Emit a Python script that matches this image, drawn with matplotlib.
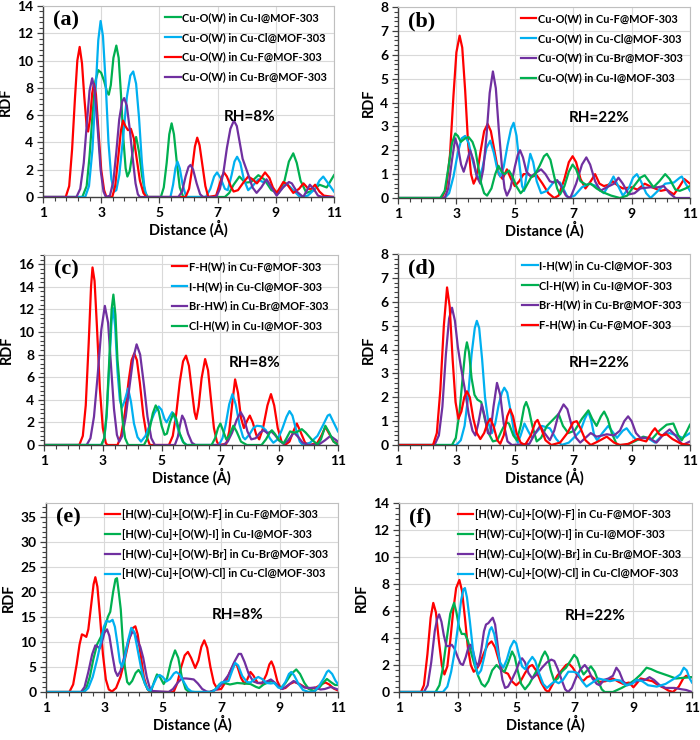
import matplotlib
matplotlib.use("Agg")
import numpy as np
import matplotlib.pyplot as plt
from matplotlib.ticker import MultipleLocator, FixedLocator

plt.rcParams['font.family'] = ['Lato', 'DejaVu Sans']

RED = '#FF0000'; GREEN = '#00B050'; CYAN = '#00B0F0'; PURPLE = '#7030A0'

# ---------------- panel (a) RH=8%  Cu-O(W) ----------------
A_I = [(1,0),(2.35,0),(2.5,0.8),(2.6,3.0),(2.7,6.0),(2.8,8.5),(2.9,9.3),(3.0,9.1),(3.1,8.5),(3.2,7.7),(3.26,7.5),(3.33,8.2),(3.42,10.2),(3.52,11.1),(3.6,10.2),(3.68,7.5),(3.76,4.3),(3.84,2.1),(3.9,1.5),(3.98,1.9),(4.08,3.3),(4.2,4.4),(4.3,3.3),(4.4,1.6),(4.5,0.4),(4.6,0),(5.05,0),(5.15,0.7),(5.25,2.5),(5.34,4.6),(5.42,5.4),(5.5,4.6),(5.6,2.5),(5.7,0.7),(5.82,0),(7.25,0),(7.4,0.3),(7.55,0.9),(7.75,1.5),(7.95,1.05),(8.15,1.1),(8.4,1.6),(8.6,1.3),(8.85,0.5),(9.1,0.3),(9.3,1.2),(9.45,2.6),(9.6,3.2),(9.72,2.5),(9.85,1.2),(10.05,0.3),(10.3,0.5),(10.5,0.9),(10.75,0.7),(11,1.6)]
A_Cl = [(1,0),(2.45,0),(2.58,0.8),(2.7,3.5),(2.8,7.5),(2.9,11.5),(2.98,12.9),(3.06,11.8),(3.15,8.5),(3.25,4.0),(3.35,1.3),(3.45,0.4),(3.52,0.5),(3.62,1.6),(3.75,4.3),(3.88,7.3),(4.0,8.9),(4.1,9.2),(4.2,8.3),(4.3,5.8),(4.4,2.5),(4.48,0.8),(4.56,0),(5.38,0),(5.47,0.9),(5.55,2.1),(5.62,2.6),(5.7,2.1),(5.8,0.9),(5.92,0),(6.6,0),(6.75,0.6),(6.88,1.5),(6.98,1.8),(7.1,1.4),(7.25,0.6),(7.35,0.5),(7.48,1.6),(7.58,2.6),(7.67,2.95),(7.78,2.5),(7.9,1.3),(8.05,0.5),(8.2,0.8),(8.4,1.3),(8.55,1.1),(8.7,1.2),(8.85,0.7),(9.03,0.2),(9.2,0.6),(9.37,1.0),(9.6,0.5),(9.83,0),(10.1,0.1),(10.35,0.6),(10.5,1.2),(10.63,1.5),(10.8,1.0),(11,0.4)]
A_F = [(1,0),(1.78,0),(1.9,0.8),(2.0,3.5),(2.1,7.3),(2.18,10.0),(2.26,11.0),(2.34,9.8),(2.42,7.3),(2.5,5.2),(2.55,4.8),(2.62,5.8),(2.69,7.6),(2.75,8.3),(2.82,7.5),(2.9,5.0),(3.0,2.0),(3.1,0.5),(3.18,0),(3.38,0),(3.48,0.8),(3.58,2.8),(3.68,4.9),(3.75,5.6),(3.83,5.2),(3.92,4.9),(4.02,5.0),(4.12,4.3),(4.22,2.8),(4.33,1.2),(4.45,0.3),(4.55,0),(5.9,0),(6.02,0.6),(6.12,2.0),(6.22,3.7),(6.3,4.35),(6.38,3.8),(6.48,2.3),(6.58,0.8),(6.68,0),(6.95,0.1),(7.05,0.8),(7.15,1.5),(7.22,1.8),(7.32,1.5),(7.45,0.8),(7.55,0.4),(7.7,0.5),(7.9,1.1),(8.05,1.5),(8.2,1.3),(8.35,1.0),(8.5,1.4),(8.63,1.8),(8.78,1.4),(8.9,0.7),(9.03,0.3),(9.15,0.7),(9.26,1.1),(9.4,0.9),(9.6,0.3),(9.8,0.6),(9.95,1.0),(10.12,0.6),(10.22,0.6),(10.35,0.9),(10.5,0.4),(10.65,0.1),(11,0)]
A_Br = [(1,0),(2.15,0),(2.28,0.6),(2.4,2.5),(2.5,5.2),(2.6,7.8),(2.69,8.7),(2.78,7.8),(2.88,5.0),(2.98,2.0),(3.08,0.4),(3.16,0),(3.3,0.1),(3.42,1.2),(3.52,3.3),(3.62,5.7),(3.72,7.0),(3.79,7.25),(3.88,6.7),(3.98,5.0),(4.08,2.9),(4.18,1.0),(4.26,0.2),(4.33,0),(5.65,0),(5.78,0.4),(5.9,1.5),(6.0,2.2),(6.07,2.35),(6.16,2.0),(6.28,1.0),(6.4,0.2),(6.5,0),(6.95,0),(7.08,0.6),(7.2,1.8),(7.32,3.6),(7.44,5.0),(7.56,5.6),(7.66,5.2),(7.76,4.0),(7.86,2.8),(7.96,2.2),(8.06,1.6),(8.2,0.7),(8.34,0.3),(8.5,0.7),(8.68,1.3),(8.85,0.7),(9.03,0.1),(9.25,0.7),(9.45,1.1),(9.55,1.0),(9.72,0.4),(9.94,0),(10.05,0.4),(10.17,0.9),(10.3,0.6),(10.45,0.1),(10.6,0),(11,0)]

# ---------------- panel (b) RH=22%  Cu-O(W) ----------------
B_F = [(1,0),(2.5,0),(2.65,0.4),(2.78,1.8),(2.9,4.3),(3.0,6.1),(3.11,6.8),(3.2,6.3),(3.3,4.5),(3.4,2.3),(3.5,1.0),(3.59,0.6),(3.7,0.9),(3.82,1.9),(3.95,2.8),(4.07,3.1),(4.18,2.8),(4.3,2.0),(4.45,1.0),(4.58,0.8),(4.73,1.2),(4.87,0.8),(5.0,0.5),(5.15,0.7),(5.3,1.0),(5.45,1.0),(5.6,0.9),(5.75,0.95),(5.95,0.6),(6.15,0.2),(6.35,0),(6.5,0.1),(6.7,0.8),(6.85,1.5),(6.98,1.75),(7.1,1.5),(7.25,0.8),(7.42,0.4),(7.6,0.7),(7.75,1.0),(7.9,0.6),(8.05,0.5),(8.2,0.55),(8.35,0.7),(8.55,0.5),(8.7,0.4),(9.0,0.45),(9.2,0.35),(9.45,0.6),(9.7,0.45),(10.0,0.3),(10.2,0.35),(10.45,0.15),(10.65,0.5),(10.8,0.8),(11,0.6)]
B_Cl = [(1,0),(2.6,0),(2.75,0.2),(2.9,0.9),(3.05,1.9),(3.18,2.5),(3.3,2.6),(3.42,2.3),(3.55,1.6),(3.68,1.0),(3.78,0.8),(3.9,1.3),(4.03,2.1),(4.16,2.4),(4.28,1.9),(4.4,1.2),(4.5,0.9),(4.62,1.3),(4.75,2.2),(4.87,2.9),(4.96,3.15),(5.06,2.6),(5.16,1.4),(5.25,0.5),(5.32,0.3),(5.42,1.1),(5.53,1.85),(5.63,1.5),(5.75,0.7),(5.9,0.2),(6.1,0.3),(6.35,0.7),(6.55,0.65),(6.7,0.3),(6.82,0),(7.05,0.1),(7.3,0.45),(7.55,0.6),(7.8,0.5),(8.05,0.2),(8.25,0.6),(8.38,0.9),(8.5,0.6),(8.7,0.1),(8.9,0.4),(9.05,0.85),(9.18,1.0),(9.32,0.7),(9.5,0.2),(9.65,0),(9.9,0.3),(10.15,0.6),(10.45,0.65),(10.65,0.85),(10.72,0.9),(10.85,0.6),(11,0.3)]
B_Br = [(1,0),(2.6,0),(2.72,0.4),(2.85,1.6),(2.96,2.5),(3.06,2.1),(3.16,1.4),(3.25,1.1),(3.35,1.5),(3.47,2.0),(3.58,1.6),(3.7,0.9),(3.82,0.6),(3.92,1.2),(4.03,2.6),(4.14,4.4),(4.25,5.3),(4.35,4.6),(4.45,2.9),(4.56,1.3),(4.65,0.4),(4.73,0.1),(4.85,0.4),(5.0,1.3),(5.1,1.8),(5.18,2.0),(5.28,1.7),(5.4,1.1),(5.55,0.9),(5.72,1.05),(5.9,1.2),(6.05,1.0),(6.2,0.7),(6.33,0.65),(6.45,0.75),(6.58,0.5),(6.75,0.1),(6.9,0),(7.1,0.6),(7.3,1.4),(7.45,1.7),(7.58,1.4),(7.75,0.7),(7.93,0.3),(8.15,0.45),(8.4,0.6),(8.55,0.85),(8.7,0.6),(8.9,0.15),(9.1,0.2),(9.3,0.4),(9.65,0.45),(9.9,0.45),(10.1,0.5),(10.3,0.2),(10.5,0),(11,0)]
B_I = [(1,0),(2.45,0),(2.6,0.3),(2.73,1.3),(2.85,2.3),(2.96,2.7),(3.05,2.6),(3.15,2.35),(3.3,2.5),(3.42,2.55),(3.55,2.35),(3.65,2.0),(3.75,1.3),(3.85,0.6),(3.95,0.2),(4.05,0.1),(4.2,0.4),(4.33,1.0),(4.44,1.35),(4.55,1.1),(4.65,1.0),(4.8,1.15),(4.92,0.9),(5.05,0.5),(5.2,0.2),(5.35,0.4),(5.55,0.85),(5.7,1.0),(5.85,1.35),(6.0,1.75),(6.1,1.85),(6.22,1.6),(6.35,0.9),(6.45,0.4),(6.55,0.15),(6.7,0.5),(6.85,1.1),(6.98,1.4),(7.1,1.2),(7.25,0.7),(7.45,0.55),(7.6,0.6),(7.8,0.4),(8.0,0.25),(8.3,0.1),(8.6,0),(8.85,0.1),(9.05,0.45),(9.3,0.85),(9.45,0.95),(9.6,0.7),(9.75,0.45),(9.95,0.7),(10.15,1.0),(10.3,0.8),(10.5,0.35),(10.65,0.3),(10.85,0.4),(11,0.5)]

# ---------------- panel (c) RH=8%  X-H(W) ----------------
C_F = [(1,0),(2.2,0),(2.32,0.8),(2.42,3.5),(2.52,9.0),(2.6,14.0),(2.65,15.7),(2.72,14.5),(2.8,10.5),(2.9,5.0),(3.0,1.5),(3.1,0.2),(3.15,0),(3.5,0),(3.62,0.8),(3.75,2.8),(3.88,5.7),(3.98,7.5),(4.07,8.1),(4.16,7.5),(4.26,5.5),(4.38,2.6),(4.5,0.7),(4.6,0),(5.25,0),(5.38,0.8),(5.5,2.8),(5.62,5.6),(5.73,7.4),(5.83,7.9),(5.93,7.0),(6.03,4.8),(6.12,2.9),(6.18,2.3),(6.26,3.4),(6.36,5.9),(6.48,7.6),(6.58,6.6),(6.68,4.0),(6.78,1.5),(6.88,0.3),(6.95,0),(7.2,0.1),(7.3,1.2),(7.4,3.6),(7.5,5.8),(7.6,4.6),(7.7,2.4),(7.8,1.5),(7.92,2.2),(8.0,2.6),(8.1,2.0),(8.22,0.9),(8.32,0.5),(8.45,1.5),(8.6,3.5),(8.72,4.5),(8.83,3.5),(8.95,1.5),(9.08,0.3),(9.2,0),(9.35,0.3),(9.48,1.2),(9.6,1.9),(9.72,1.2),(9.88,0.2),(10.05,0),(10.3,0.2),(10.45,0.9),(10.57,1.6),(10.7,1.0),(10.85,0.3),(11,0.1)]
C_Cl = [(1,0),(2.95,0),(3.05,0.6),(3.13,2.5),(3.22,7.0),(3.3,11.0),(3.35,12.1),(3.42,10.5),(3.5,6.5),(3.58,4.0),(3.65,3.3),(3.74,3.9),(3.86,5.0),(3.96,3.8),(4.06,1.9),(4.18,0.7),(4.3,0.3),(4.45,0.8),(4.6,1.8),(4.75,2.8),(4.9,3.4),(5.0,3.1),(5.1,2.3),(5.17,2.0),(5.27,2.5),(5.36,2.9),(5.45,2.4),(5.58,1.2),(5.72,0.3),(5.85,0),(6.95,0),(7.07,0.6),(7.18,1.8),(7.3,3.6),(7.41,4.5),(7.52,3.6),(7.65,1.8),(7.77,0.7),(7.84,0.5),(7.98,0.9),(8.12,1.5),(8.24,1.7),(8.4,1.65),(8.55,1.3),(8.68,0.6),(8.8,0.2),(8.95,0.5),(9.1,1.4),(9.25,2.5),(9.35,3.0),(9.45,2.6),(9.58,1.3),(9.7,0.3),(9.8,0),(10.05,0.2),(10.3,0.8),(10.5,1.8),(10.65,2.6),(10.72,2.7),(10.85,2.0),(11,1.2)]
C_Br = [(1,0),(2.45,0),(2.58,0.6),(2.7,2.5),(2.82,6.0),(2.95,10.2),(3.07,12.3),(3.18,10.8),(3.28,7.0),(3.38,3.2),(3.48,0.9),(3.56,0.3),(3.66,0.8),(3.78,2.5),(3.9,5.0),(4.03,7.6),(4.15,8.9),(4.27,8.0),(4.4,5.3),(4.52,2.5),(4.65,0.6),(4.77,0),(5.45,0),(5.55,0.7),(5.63,1.8),(5.7,2.6),(5.78,2.2),(5.9,1.0),(6.03,0.2),(6.15,0),(7.1,0),(7.25,0.3),(7.4,1.1),(7.55,2.2),(7.69,2.9),(7.8,2.4),(7.92,1.2),(8.05,0.5),(8.2,0.6),(8.35,1.1),(8.47,1.3),(8.6,1.05),(8.73,1.2),(8.85,0.9),(9.0,0.4),(9.15,0.1),(9.3,0.4),(9.5,1.1),(9.65,0.7),(9.8,0.2),(10.0,0),(10.35,0.05),(10.55,0.4),(10.74,0.8),(10.9,0.5),(11,0.3)]
C_I = [(1,0),(2.95,0),(3.05,0.6),(3.13,2.8),(3.22,7.5),(3.3,12.0),(3.36,13.3),(3.43,11.5),(3.5,7.5),(3.55,6.0),(3.6,4.2),(3.68,2.0),(3.76,0.6),(3.86,0),(4.4,0),(4.5,0.5),(4.6,1.5),(4.7,2.8),(4.8,3.5),(4.9,3.0),(5.0,1.7),(5.1,0.9),(5.18,1.0),(5.28,2.0),(5.4,2.8),(5.5,2.3),(5.62,1.0),(5.75,0.2),(5.85,0),(6.7,0),(6.82,0.6),(6.92,1.5),(7.0,1.9),(7.1,1.2),(7.2,0.5),(7.3,0.8),(7.44,1.7),(7.55,1.2),(7.7,0.3),(7.9,0),(8.4,0),(8.55,0.5),(8.68,1.1),(8.75,1.3),(8.85,1.0),(9.0,0.4),(9.15,0.15),(9.25,0.6),(9.37,1.2),(9.5,1.1),(9.6,1.15),(9.77,1.4),(9.9,1.1),(10.1,0.5),(10.3,0.05),(10.42,0.5),(10.57,1.7),(10.7,1.1),(10.85,0.3),(11,0)]

# ---------------- panel (d) RH=22%  X-H(W) ----------------
D_Cl = [(1,0),(3.0,0),(3.15,0.2),(3.28,0.8),(3.4,2.0),(3.52,3.8),(3.63,4.9),(3.7,5.2),(3.78,4.9),(3.88,3.6),(3.98,2.0),(4.1,0.9),(4.22,0.5),(4.33,0.9),(4.45,1.7),(4.56,2.2),(4.64,2.4),(4.74,2.2),(4.86,1.4),(4.98,0.5),(5.1,0.1),(5.2,0.4),(5.33,0.9),(5.45,0.6),(5.59,0.3),(5.75,0.55),(5.93,0.8),(6.2,0.7),(6.42,0.25),(6.6,0),(6.85,0.1),(7.1,0.4),(7.25,0.6),(7.4,1.1),(7.52,1.4),(7.62,1.0),(7.72,0.4),(7.82,0.2),(8.0,0.5),(8.2,0.8),(8.35,0.55),(8.5,0.3),(8.7,0.6),(8.83,0.7),(8.98,0.45),(9.17,0.2),(9.4,0.3),(9.6,0.25),(9.8,0.1),(10.05,0.4),(10.3,0.5),(10.55,0.4),(10.75,0.3),(11,0.5)]
D_I = [(1,0),(2.85,0),(2.98,0.3),(3.1,1.3),(3.22,2.9),(3.3,3.9),(3.36,4.3),(3.43,3.9),(3.52,2.8),(3.62,2.1),(3.72,1.9),(3.85,1.8),(3.97,1.1),(4.1,0.5),(4.25,0.15),(4.4,0.2),(4.55,0.6),(4.7,0.95),(4.8,0.9),(4.95,0.4),(5.07,0.2),(5.2,0.8),(5.32,1.6),(5.39,1.8),(5.48,1.5),(5.6,0.8),(5.75,0.15),(5.9,0.3),(6.1,0.8),(6.3,1.05),(6.5,1.3),(6.65,0.8),(6.83,0.5),(7.05,0.6),(7.3,1.1),(7.52,1.45),(7.65,1.1),(7.8,0.8),(7.95,1.2),(8.06,1.4),(8.18,1.1),(8.32,0.5),(8.5,0),(8.8,0),(9.1,0.15),(9.4,0.35),(9.7,0.25),(9.95,0.6),(10.2,0.85),(10.43,0.9),(10.6,0.4),(10.72,0.2),(10.9,0.6),(11,0.85)]
D_Br = [(1,0),(2.25,0),(2.4,0.4),(2.52,1.6),(2.64,3.8),(2.75,5.3),(2.85,5.75),(2.95,5.2),(3.05,4.1),(3.15,3.3),(3.28,2.4),(3.42,1.3),(3.55,0.6),(3.65,0.4),(3.75,0.9),(3.87,1.7),(3.97,1.2),(4.08,0.5),(4.16,0.45),(4.27,1.6),(4.39,2.6),(4.5,2.1),(4.62,0.9),(4.75,0.15),(4.9,0),(5.5,0.05),(5.7,0.5),(5.87,0.8),(6.02,0.5),(6.2,0.2),(6.35,0.6),(6.5,1.3),(6.67,1.7),(6.8,1.5),(6.95,0.8),(7.1,0.3),(7.24,0.1),(7.42,0.3),(7.6,0.5),(7.8,0.35),(8.0,0.4),(8.15,0.45),(8.4,0.4),(8.6,0.6),(8.75,1.0),(8.88,1.2),(9.0,1.0),(9.15,0.5),(9.3,0.3),(9.6,0.3),(9.85,0.1),(10.1,0.45),(10.3,0.65),(10.5,0.4),(10.75,0),(11,0.15)]
D_F = [(1,0),(2.2,0),(2.33,0.5),(2.45,2.3),(2.57,5.0),(2.68,6.6),(2.77,5.8),(2.87,3.6),(2.97,1.8),(3.07,1.1),(3.17,1.4),(3.27,2.0),(3.36,2.25),(3.46,2.0),(3.58,1.1),(3.7,0.5),(3.82,0.25),(3.95,0.5),(4.06,0.9),(4.16,1.1),(4.27,0.8),(4.4,0.2),(4.5,0.05),(4.62,0.4),(4.74,1.2),(4.84,1.5),(4.94,1.2),(5.06,0.5),(5.2,0.1),(5.35,0),(5.55,0.4),(5.7,0.95),(5.78,1.05),(5.9,0.7),(6.05,0.2),(6.25,0),(6.55,0.1),(6.8,0.5),(7.0,0.95),(7.12,1.0),(7.25,0.7),(7.42,0.2),(7.6,0),(7.85,0.15),(8.15,0.35),(8.4,0.1),(8.6,0),(8.9,0.05),(9.2,0.25),(9.5,0.15),(9.7,0.55),(9.8,0.7),(9.95,0.45),(10.05,0.4),(10.2,0.45),(10.4,0.25),(10.7,0.05),(11,0)]

# ---------------- panel (e) RH=8%  combined ----------------
E_F = [(1,0),(1.8,0),(1.93,1.5),(2.05,5.5),(2.15,9.5),(2.23,11.5),(2.3,11.3),(2.38,11.0),(2.45,12.5),(2.55,17.5),(2.63,21.5),(2.69,22.9),(2.76,21.0),(2.85,15.0),(2.95,7.5),(3.05,2.5),(3.15,0.5),(3.26,0.1),(3.4,0.8),(3.55,3.0),(3.7,6.5),(3.85,10.5),(3.96,12.7),(4.06,13.1),(4.14,11.5),(4.24,7.5),(4.35,3.0),(4.47,0.6),(4.57,0),(5.37,0),(5.5,1.8),(5.62,4.8),(5.75,7.3),(5.86,8.0),(5.97,6.8),(6.11,4.8),(6.22,6.3),(6.32,9.0),(6.42,10.3),(6.52,8.8),(6.63,5.0),(6.75,1.8),(6.88,0.5),(7.0,0.6),(7.15,2.0),(7.3,4.0),(7.45,5.8),(7.55,5.2),(7.68,2.8),(7.8,1.6),(7.9,2.6),(8.0,4.0),(8.1,3.3),(8.25,1.8),(8.4,1.7),(8.55,3.5),(8.65,5.5),(8.72,6.1),(8.8,5.0),(8.92,2.2),(9.05,0.6),(9.2,0.8),(9.35,1.6),(9.5,2.0),(9.65,1.7),(9.85,1.0),(10.05,0.6),(10.25,0.9),(10.45,1.6),(10.57,1.9),(10.7,1.5),(10.85,0.7),(11,0.3)]
E_I = [(1,0),(2.25,0),(2.38,0.8),(2.5,3.0),(2.62,6.5),(2.75,9.5),(2.88,11.0),(3.0,12.5),(3.12,15.0),(3.2,16.0),(3.3,20.0),(3.38,22.5),(3.43,22.7),(3.5,19.5),(3.56,16.5),(3.62,11.0),(3.7,5.0),(3.78,2.0),(3.85,1.5),(3.95,2.2),(4.07,3.8),(4.17,4.4),(4.27,3.5),(4.4,1.5),(4.5,0.4),(4.6,0.2),(4.7,2.0),(4.8,3.5),(4.9,3.0),(5.03,1.6),(5.15,2.8),(5.28,6.0),(5.42,8.3),(5.53,6.8),(5.65,3.0),(5.78,0.6),(5.9,0),(6.6,0),(6.78,0.4),(6.95,1.6),(7.1,1.8),(7.3,1.5),(7.55,1.8),(7.75,1.7),(8.0,1.6),(8.2,1.0),(8.3,0.8),(8.45,1.5),(8.6,1.9),(8.75,2.2),(8.9,1.4),(9.05,0.8),(9.2,1.8),(9.4,3.6),(9.57,4.5),(9.7,3.6),(9.85,1.8),(10.0,0.6),(10.17,0.2),(10.35,0.8),(10.5,1.9),(10.62,2.6),(10.75,2.0),(10.9,1.4),(11,1.4)]
E_Br = [(1,0),(2.2,0),(2.32,1.0),(2.45,4.0),(2.58,7.5),(2.69,9.3),(2.78,9.0),(2.84,8.7),(2.92,10.0),(3.0,11.8),(3.09,12.5),(3.17,11.2),(3.27,7.5),(3.37,4.2),(3.45,3.2),(3.55,4.2),(3.68,7.0),(3.82,10.3),(3.95,11.9),(4.03,11.8),(4.13,10.3),(4.23,9.0),(4.33,6.8),(4.45,3.0),(4.55,0.9),(4.65,0.2),(5.2,0),(5.35,0.6),(5.5,1.8),(5.65,2.7),(5.8,2.7),(5.95,2.6),(6.06,2.5),(6.2,1.7),(6.35,0.6),(6.5,0.1),(6.6,0),(6.85,0.5),(7.05,1.8),(7.25,3.4),(7.45,6.0),(7.6,7.6),(7.68,7.6),(7.8,6.0),(7.95,3.5),(8.1,2.1),(8.25,1.8),(8.45,1.9),(8.6,2.2),(8.7,2.5),(8.85,1.8),(9.0,0.9),(9.1,0.6),(9.3,1.4),(9.48,2.2),(9.65,1.6),(9.85,0.9),(10.05,0.8),(10.2,0.9),(10.4,0.5),(10.55,0.6),(10.75,1.0),(10.9,0.7),(11,0.5)]
E_Cl = [(1,0),(2.3,0),(2.45,0.8),(2.6,3.0),(2.75,6.5),(2.88,10.0),(2.98,13.0),(3.07,14.2),(3.18,14.0),(3.28,14.4),(3.36,13.0),(3.45,9.5),(3.53,6.0),(3.6,5.0),(3.7,6.8),(3.82,10.5),(3.92,12.8),(4.02,12.0),(4.12,9.0),(4.25,5.0),(4.38,1.8),(4.5,0.4),(4.58,0.3),(4.68,1.5),(4.8,3.0),(4.89,3.4),(5.0,3.0),(5.12,2.1),(5.25,2.6),(5.38,3.7),(5.46,4.0),(5.58,3.5),(5.72,2.0),(5.85,0.7),(5.98,0.1),(6.1,0),(6.7,0),(6.85,0.8),(7.0,1.9),(7.1,2.0),(7.25,2.2),(7.38,4.3),(7.48,5.8),(7.58,5.3),(7.72,3.2),(7.88,2.0),(8.0,1.9),(8.15,2.6),(8.27,3.0),(8.4,2.6),(8.55,1.8),(8.7,1.7),(8.82,1.8),(8.95,0.9),(9.05,0.7),(9.2,2.0),(9.32,3.6),(9.4,4.0),(9.5,3.3),(9.65,1.6),(9.8,0.4),(10.0,0),(10.2,0.1),(10.35,1.2),(10.5,2.6),(10.62,4.0),(10.68,4.3),(10.8,3.6),(10.92,2.2),(11,1.6)]

# ---------------- panel (f) RH=22%  combined ----------------
F_F = [(1,0),(1.75,0),(1.85,0.5),(1.97,2.8),(2.08,5.5),(2.17,6.6),(2.26,5.9),(2.36,3.8),(2.46,2.0),(2.55,1.3),(2.65,1.9),(2.75,3.8),(2.85,6.0),(2.95,7.7),(3.06,8.3),(3.15,7.5),(3.25,5.5),(3.35,3.3),(3.45,2.0),(3.55,1.5),(3.65,1.7),(3.78,2.2),(3.9,2.9),(4.03,3.5),(4.16,3.75),(4.28,3.3),(4.4,2.4),(4.52,1.6),(4.62,1.45),(4.72,1.35),(4.85,0.8),(5.0,0.5),(5.15,0.8),(5.3,1.4),(5.45,1.9),(5.55,2.0),(5.68,1.6),(5.85,0.7),(6.0,0.15),(6.1,0),(6.25,0.6),(6.4,1.2),(6.55,1.6),(6.7,2.0),(6.8,2.1),(6.93,1.8),(7.1,1.2),(7.28,0.8),(7.42,1.1),(7.55,1.2),(7.7,0.9),(7.85,0.75),(8.05,0.8),(8.3,1.0),(8.5,0.75),(8.65,0.6),(8.85,0.7),(9.0,0.35),(9.1,0.6),(9.25,1.0),(9.45,0.9),(9.65,0.8),(9.85,0.5),(10.05,0.3),(10.2,0.1),(10.35,0),(10.55,0.4),(10.7,1.0),(10.8,1.2),(10.9,1.1),(11,1.1)]
F_I = [(1,0),(2.25,0),(2.38,0.5),(2.5,1.8),(2.62,3.8),(2.75,5.8),(2.88,6.6),(2.96,5.9),(3.05,4.8),(3.14,4.3),(3.25,4.3),(3.35,3.8),(3.45,3.0),(3.58,2.0),(3.7,1.2),(3.82,0.6),(3.93,0.4),(4.05,0.8),(4.18,1.6),(4.33,2.0),(4.46,1.7),(4.6,1.5),(4.73,2.2),(4.86,3.0),(4.95,2.6),(5.05,1.6),(5.17,0.6),(5.3,0.2),(5.45,0.6),(5.6,1.2),(5.75,1.8),(5.88,2.6),(5.98,3.0),(6.08,2.6),(6.18,1.6),(6.3,0.8),(6.42,1.0),(6.55,1.5),(6.7,1.8),(6.85,2.3),(6.98,2.75),(7.08,2.5),(7.18,1.8),(7.3,1.3),(7.42,1.6),(7.55,1.9),(7.68,1.5),(7.8,0.8),(7.92,0.2),(8.02,0),(8.3,0),(8.6,0.3),(8.85,0.6),(9.05,0.9),(9.25,1.3),(9.45,1.8),(9.6,1.7),(9.8,1.5),(10.0,1.35),(10.2,1.2),(10.45,1.0),(10.7,1.05),(11,1.1)]
F_Br = [(1,0),(1.85,0),(1.98,0.5),(2.1,2.2),(2.22,4.5),(2.3,5.4),(2.37,5.75),(2.45,5.2),(2.53,4.2),(2.62,3.4),(2.72,3.4),(2.8,3.5),(2.9,3.2),(3.0,2.6),(3.1,2.1),(3.18,2.0),(3.28,2.6),(3.38,3.4),(3.45,3.5),(3.53,3.0),(3.62,2.2),(3.7,1.9),(3.8,3.0),(3.9,4.5),(3.97,5.0),(4.05,5.1),(4.12,5.3),(4.2,5.5),(4.28,5.0),(4.36,3.6),(4.45,2.0),(4.53,0.9),(4.62,0.3),(4.72,0.4),(4.85,0.9),(5.0,1.6),(5.12,2.3),(5.2,2.5),(5.3,2.2),(5.42,1.4),(5.55,1.0),(5.7,1.3),(5.88,1.8),(6.05,2.2),(6.2,2.4),(6.3,2.3),(6.42,1.7),(6.55,0.9),(6.67,0.2),(6.77,0),(6.9,0.3),(7.05,1.1),(7.2,1.7),(7.34,2.0),(7.45,1.7),(7.6,1.0),(7.75,0.6),(7.85,0.5),(8.0,0.9),(8.15,1.0),(8.3,1.2),(8.42,1.8),(8.52,1.5),(8.65,0.8),(8.8,0.5),(9.0,0.7),(9.2,0.9),(9.4,0.9),(9.55,1.1),(9.7,0.9),(9.9,0.5),(10.1,0.3),(10.4,0.3),(10.65,0.2),(10.8,0.15),(11,0)]
F_Cl = [(1,0),(2.5,0),(2.65,0.4),(2.78,1.5),(2.9,3.0),(3.02,5.0),(3.12,6.8),(3.2,7.6),(3.25,7.7),(3.32,7.0),(3.42,5.2),(3.52,3.2),(3.6,2.0),(3.7,1.3),(3.8,1.6),(3.92,2.7),(4.02,3.9),(4.1,4.6),(4.16,4.8),(4.25,4.3),(4.35,3.2),(4.45,2.2),(4.56,1.8),(4.68,2.4),(4.8,3.3),(4.92,3.8),(5.0,3.6),(5.1,2.7),(5.2,1.9),(5.3,1.7),(5.42,2.2),(5.55,2.6),(5.65,2.3),(5.78,1.4),(5.92,0.6),(6.05,0.3),(6.2,0.6),(6.32,0.8),(6.45,0.65),(6.6,0.9),(6.78,1.5),(6.95,1.5),(7.1,1.4),(7.25,0.8),(7.4,0.4),(7.6,0.7),(7.8,1.0),(8.0,0.9),(8.2,0.8),(8.4,0.9),(8.55,0.85),(8.75,0.5),(8.95,0.6),(9.1,0.9),(9.3,0.8),(9.5,0.5),(9.8,0.4),(10.1,0.6),(10.4,1.0),(10.6,1.3),(10.72,1.8),(10.82,1.6),(10.92,1.0),(11,0.7)]

LAB_A = ["Cu-O(W) in Cu-I@MOF-303", "Cu-O(W) in Cu-Cl@MOF-303", "Cu-O(W) in Cu-F@MOF-303", "Cu-O(W) in Cu-Br@MOF-303"]
LAB_B = ["Cu-O(W) in Cu-F@MOF-303", "Cu-O(W) in Cu-Cl@MOF-303", "Cu-O(W) in Cu-Br@MOF-303", "Cu-O(W) in Cu-I@MOF-303"]
LAB_C = ["F-H(W) in Cu-F@MOF-303", "I-H(W) in Cu-Cl@MOF-303", "Br-HW) in Cu-Br@MOF-303", "Cl-H(W) in Cu-I@MOF-303"]
LAB_D = ["I-H(W) in Cu-Cl@MOF-303", "Cl-H(W) in Cu-I@MOF-303", "Br-H(W) in Cu-Br@MOF-303", "F-H(W) in Cu-F@MOF-303"]
LAB_E = ["[H(W)-Cu]+[O(W)-F] in Cu-F@MOF-303", "[H(W)-Cu]+[O(W)-I] in Cu-I@MOF-303",
         "[H(W)-Cu]+[O(W)-Br] in Cu-Br@MOF-303", "[H(W)-Cu]+[O(W)-Cl] in Cu-Cl@MOF-303"]
X_TICKS = [1, 3, 5, 7, 9, 11]

panels = [
    dict(tag="(a)", rh="RH=8%", series=[A_I, A_Cl, A_F, A_Br], colors=[GREEN, CYAN, RED, PURPLE], labels=LAB_A,
         ylim=14, ystep=2, box=(43, 6, 334, 197), leg_x=0.40, rh_pos=(0.71, 0.42)),
    dict(tag="(b)", rh="RH=22%", series=[B_F, B_Cl, B_Br, B_I], colors=[RED, CYAN, PURPLE, GREEN], labels=LAB_B,
         ylim=8, ystep=1, box=(398, 7, 690, 198), leg_x=0.40, rh_pos=(0.69, 0.42)),
    dict(tag="(c)", rh="RH=8%", series=[C_F, C_Cl, C_Br, C_I], colors=[RED, CYAN, PURPLE, GREEN], labels=LAB_C,
         ylim=16.8, ystep=2, box=(44, 255, 338, 445), leg_x=0.415, rh_pos=(0.715, 0.43)),
    dict(tag="(d)", rh="RH=22%", series=[D_Cl, D_I, D_Br, D_F], colors=[CYAN, GREEN, PURPLE, RED], labels=LAB_D,
         ylim=8, ystep=1, box=(398, 254, 690, 445), leg_x=0.405, rh_pos=(0.69, 0.43)),
    dict(tag="(e)", rh="RH=8%", series=[E_F, E_I, E_Br, E_Cl], colors=[RED, GREEN, PURPLE, CYAN], labels=LAB_E,
         ylim=37.7, ystep=5, box=(46, 503, 338, 692), leg_x=0.18, rh_pos=(0.656, 0.41)),
    dict(tag="(f)", rh="RH=22%", series=[F_F, F_I, F_Br, F_Cl], colors=[RED, GREEN, PURPLE, CYAN], labels=LAB_E,
         ylim=14, ystep=2, box=(399, 503, 692, 692), leg_x=0.18, rh_pos=(0.668, 0.40)),
]

W, H = 700, 740
fig = plt.figure(figsize=(7.0, 7.4), dpi=100)

for p in panels:
    l, t, r, b = p["box"]
    ax = fig.add_axes([l / W, 1 - b / H, (r - l) / W, (b - t) / H])
    handles = []
    for pts, c, lab in zip(p["series"], p["colors"], p["labels"]):
        xs = [q[0] for q in pts]
        ys = [q[1] for q in pts]
        h, = ax.plot(xs, ys, color=c, lw=1.6, label=lab, solid_joinstyle='round')
        handles.append(h)
    ax.set_xlim(1, 11)
    ax.set_ylim(0, p["ylim"])
    ax.xaxis.set_major_locator(FixedLocator(X_TICKS))
    ax.xaxis.set_minor_locator(FixedLocator(np.arange(1, 11.01, 0.4)))
    ax.yaxis.set_major_locator(MultipleLocator(p["ystep"]))
    ax.yaxis.set_minor_locator(MultipleLocator(p["ystep"] / 5))
    ax.grid(True, which='major', color='#D9D9D9', lw=0.8)
    ax.set_axisbelow(True)
    for s in ['top', 'right']:
        ax.spines[s].set_color('#BFBFBF')
        ax.spines[s].set_linewidth(0.8)
    for s in ['left', 'bottom']:
        ax.spines[s].set_color('#404040')
        ax.spines[s].set_linewidth(1.0)
    ax.tick_params(which='major', direction='out', length=4, width=0.9, color='#404040',
                   labelsize=10, pad=3)
    ax.tick_params(which='minor', direction='out', length=3, width=0.8, color='#404040')
    for lbl in ax.get_xticklabels() + ax.get_yticklabels():
        lbl.set_fontweight('bold')
    ax.set_ylabel("RDF", fontsize=10.5, fontweight='bold', labelpad=3)
    ax.set_xlabel("Distance (Å)", fontsize=10.5, fontweight='bold', labelpad=1)
    ax.text(0.035, 0.975, p["tag"], transform=ax.transAxes, ha='left', va='top',
            fontsize=16, fontweight='bold', family=['Liberation Serif', 'DejaVu Serif'])
    ax.text(p["rh_pos"][0], p["rh_pos"][1], p["rh"], transform=ax.transAxes, ha='center', va='center',
            fontsize=11, fontweight='bold')
    ax.legend(handles=handles, loc='upper left', bbox_to_anchor=(p["leg_x"], 1.0),
              frameon=False, handlelength=1.4, handletextpad=0.15,
              labelspacing=0.8, borderaxespad=0.3, borderpad=0.25,
              prop={'weight': 'bold', 'size': 7.9})

fig.savefig("out.png", dpi=100)
